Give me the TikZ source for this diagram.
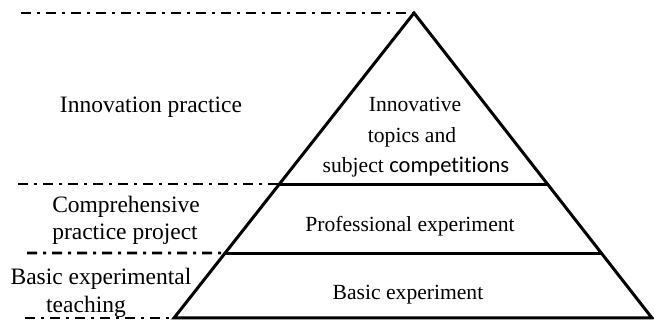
\documentclass[tikz,border=0pt]{standalone}
\usepackage{fontspec}
\usetikzlibrary{calc}
\setmainfont{Liberation Serif}
\newfontfamily\calibrifont[Ligatures={NoCommon}]{Carlito}
\begin{document}
\begin{tikzpicture}[x=1pt,y=-1pt,
  edge/.style={line width=3pt, line join=miter},
  dashdot/.style={line width=2.8pt, dash pattern=on 10pt off 6pt on 3pt off 6pt},
  outer/.style={anchor=base, inner sep=0pt, font=\fontsize{23.5}{28}\selectfont},
  inner/.style={anchor=base, inner sep=0pt, font=\fontsize{21.6}{30}\selectfont}]
\useasboundingbox (0,0) rectangle (654,323);
% triangle corners
\coordinate (apex) at (414,13);
\coordinate (bl) at (174,318);
\coordinate (br) at (652,318);
\coordinate (l1) at ($(apex)!0.5607!(bl)$);
\coordinate (r1) at ($(apex)!0.5607!(br)$);
\coordinate (l2) at ($(apex)!0.7869!(bl)$);
\coordinate (r2) at ($(apex)!0.7869!(br)$);
% dash-dot guide ends
\coordinate (d0) at (21,13);
\coordinate (d1) at (18,184);
\coordinate (d1e) at (286,184);
\coordinate (d2) at (27,253);
\coordinate (d3) at (25,318);
\draw[dashdot] (d0) -- (apex);
\draw[dashdot] (d1) -- (d1e);
\draw[dashdot] (d2) -- (l2);
\draw[dashdot] (d3) -- (bl);
% pyramid
\draw[edge] (bl) -- (apex) -- (br) -- cycle;
\draw[edge] (l1) -- (r1);
\draw[edge] (l2) -- (r2);
% left labels
\node[outer] (lab1) at (151,113) {Innovation practice};
\node[outer] (lab2a) at (126,213) {Comprehensive};
\node[outer] (lab2b) at (125,240) {practice project};
\node[outer] (lab3a) at (101,285) {Basic experimental};
\node[outer] (lab3b) at (86,313) {teaching};
% inner labels
\node[inner] (in1a) at (415,112) {Innovative};
\node[inner] (in1b) at (412,143) {topics and};
\node[inner] (in1c) at (416,173) {subject {\calibrifont\fontsize{22.5}{30}\selectfont competitions}};
\node[inner] (in2) at (410,232) {Professional experiment};
\node[inner] (in3) at (408,300) {Basic experiment};
\end{tikzpicture}
\end{document}
